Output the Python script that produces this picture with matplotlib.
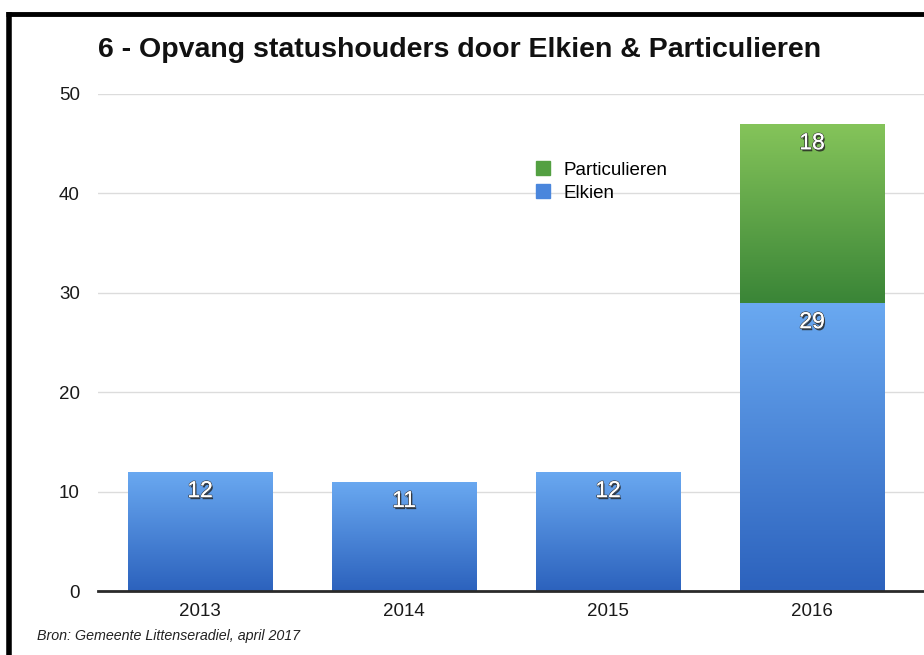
import matplotlib
matplotlib.use("Agg")
import matplotlib.pyplot as plt
import matplotlib.patheffects as pe
from matplotlib.colors import LinearSegmentedColormap
from matplotlib.lines import Line2D
import numpy as np

plt.rcParams['font.family'] = ['Liberation Sans', 'DejaVu Sans']

years = ["2013", "2014", "2015", "2016"]
elkien = [12, 11, 12, 29]
particulieren = [0, 0, 0, 18]
yticks = [0, 10, 20, 30, 40, 50]
title = "6 - Opvang statushouders door Elkien & Particulieren"
source = "Bron: Gemeente Littenseradiel, april 2017"

W, H = 924, 655
fig = plt.figure(figsize=(W / 100, H / 100), dpi=100)
ax = fig.add_axes([98 / W, 64 / H, (924 - 98) / W, (591 - 94) / H])

x = np.arange(len(years))
width = 0.71
blue_cmap = LinearSegmentedColormap.from_list("b", ["#2c62bd", "#6aa9f1"])
green_cmap = LinearSegmentedColormap.from_list("g", ["#3a8537", "#85c45a"])

b1 = ax.bar(x, elkien, width, color="#4a86dc", label="Elkien", zorder=2)
b2 = ax.bar(x, particulieren, width, bottom=elkien, color="#5ea548",
            label="Particulieren", zorder=2)

grad = np.linspace(0, 1, 256).reshape(-1, 1)
for bars, cmap in ((b1, blue_cmap), (b2, green_cmap)):
    for p in bars:
        if p.get_height() <= 0:
            continue
        x0, y0 = p.get_x(), p.get_y()
        x1, y1 = x0 + p.get_width(), y0 + p.get_height()
        im = ax.imshow(grad, cmap=cmap, origin="lower", aspect="auto",
                       extent=[x0, x1, y0, y1], zorder=2.5, interpolation="bicubic")
        im.set_clip_path(p)

shadow = [pe.withSimplePatchShadow(offset=(1, -1.5), shadow_rgbFace="#202020", alpha=0.8),
          pe.withStroke(linewidth=1.0, foreground="#3a3a3a"), pe.Normal()]
for bars, vals, bottoms in ((b1, elkien, [0] * 4), (b2, particulieren, elkien)):
    for xi, v, bt in zip(x, vals, bottoms):
        if v <= 0:
            continue
        ax.text(xi, bt + v - 1.9, str(v), ha="center", va="center", color="white",
                fontsize=16.5, zorder=4, path_effects=shadow)

ax.set_xlim(-0.5, 3.549)
ax.set_ylim(0, 50)
ax.set_yticks(yticks)
ax.set_xticks(x)
ax.set_xticklabels(years)
ax.tick_params(axis="both", length=0, labelsize=13.5, colors="#1a1a1a")
ax.tick_params(axis="y", pad=13)
ax.tick_params(axis="x", pad=9)
for s in ("top", "right", "left"):
    ax.spines[s].set_visible(False)
ax.spines["bottom"].set_color("#2a2a2a")
ax.spines["bottom"].set_linewidth(2)
ax.spines["bottom"].set_zorder(5)
ax.yaxis.grid(True, color="#dcdcdc", linewidth=1, zorder=0)
ax.set_axisbelow(True)

leg = ax.legend(handles=[b2, b1], labels=["Particulieren", "Elkien"],
                loc="upper left", bbox_to_anchor=((527 - 98) / (924 - 98), (591 - 152) / (591 - 94)),
                frameon=False, fontsize=13.5, handlelength=0.75, handleheight=0.75,
                handletextpad=0.7, labelspacing=0.3, borderpad=0)
leg.legend_handles[0].set_color("#53a042")
leg.legend_handles[1].set_color("#4a86dc")

fig.text(460 / W, 1 - 50 / H, title, ha="center", va="center", fontsize=20.5,
         fontweight="bold", color="#111111")
fig.text(37 / W, 1 - 636 / H, source, ha="left", va="center", fontsize=10.3,
         style="italic", color="#222222")

# black frame (partially cropped)
fig.add_artist(Line2D([8.5 / W, 8.5 / W], [0, 1 - 12 / H], transform=fig.transFigure,
                      color="black", linewidth=4, solid_capstyle="butt"))
fig.add_artist(Line2D([6 / W, 1], [1 - 14 / H, 1 - 14 / H], transform=fig.transFigure,
                      color="black", linewidth=3.5, solid_capstyle="butt"))

fig.savefig("out.png", dpi=100)
